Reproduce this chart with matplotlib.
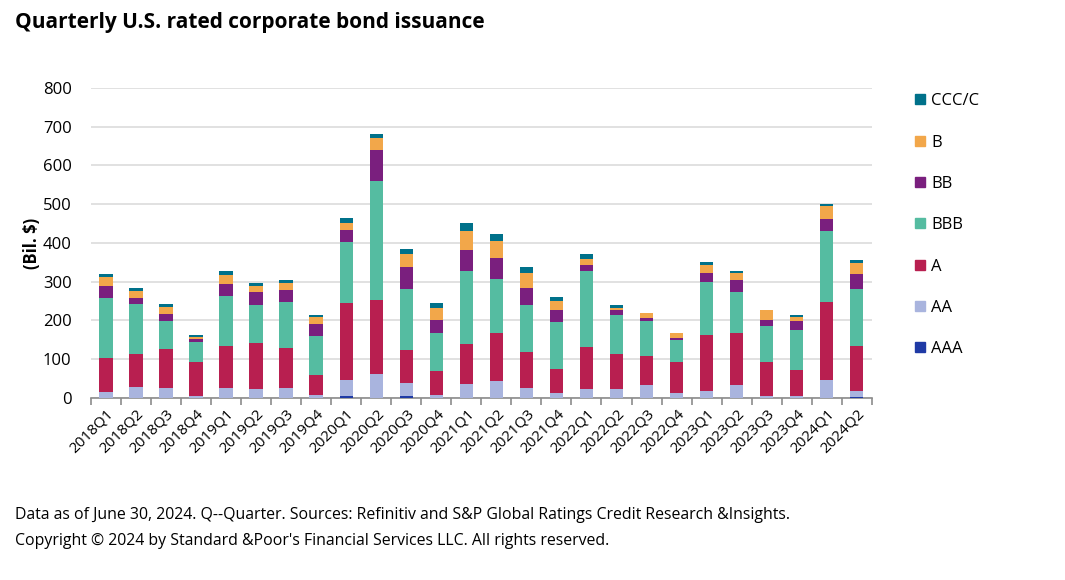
import matplotlib
matplotlib.use("Agg")
import matplotlib.pyplot as plt
import numpy as np
from matplotlib.lines import Line2D

quarters = ["2018Q1", "2018Q2", "2018Q3", "2018Q4", "2019Q1", "2019Q2", "2019Q3", "2019Q4",
            "2020Q1", "2020Q2", "2020Q3", "2020Q4", "2021Q1", "2021Q2", "2021Q3", "2021Q4",
            "2022Q1", "2022Q2", "2022Q3", "2022Q4", "2023Q1", "2023Q2", "2023Q3", "2023Q4",
            "2024Q1", "2024Q2"]

aaa = [0, 0, 0, 0, 0, 0, 0, 0, 5.2, 0, 5.2, 0, 0, 0, 0, 0,
       0, 0, 0, 0, 0, 0, 0, 0, 0, 2.6]
aa = [15.5, 28.5, 26, 5, 26, 23.3, 26, 7.8, 41.4, 62.2, 33.7, 7.8, 36.3, 44, 26, 13,
      23.3, 23.3, 33.7, 13, 18.1, 33.7, 5.2, 5.2, 46.6, 15.5]
a = [88, 85.5, 101, 88, 108.7, 119, 103.6, 51.8, 199.6, 191.8, 85.5, 62.2, 103.7, 124.5, 93.2, 62.2,
     108.9, 90.7, 75.2, 80.3, 145.2, 134.8, 88.1, 67.4, 202.1, 116.6]
bbb = [155.5, 129.5, 72.5, 52, 129.6, 98.5, 119, 101, 155.6, 305.6, 155.6, 98.5, 189, 137.3, 121.8, 121.8,
       194.4, 101, 90.7, 57, 137.3, 106.2, 93.3, 103.6, 181.3, 145.3]
bb = [31, 15.5, 18, 8, 31, 33.6, 31, 31, 31, 80.4, 56.8, 33.5, 52, 54.2, 44, 31,
      15.4, 13, 7.8, 5.2, 20.8, 28.6, 15.4, 23.4, 31.2, 38.7]
b = [21, 18, 18.3, 5, 23.3, 15.5, 18, 18.3, 18, 31, 33.7, 31, 49, 44, 36.4, 23.4,
     15.7, 5.3, 12.9, 13, 20.6, 18.1, 26, 10.4, 33.8, 28.6]
ccc = [8, 8, 7.5, 5, 10.3, 8, 8, 5, 13, 10.4, 13, 13, 21, 18.5, 15.6, 10.4,
       12.9, 7.7, 0, 0, 8, 5.2, 0, 5, 5, 7.7]

series_names = ["AAA", "AA", "A", "BBB", "BB", "B", "CCC/C"]
series_vals = [aaa, aa, a, bbb, bb, b, ccc]
colors = ["#1f3aa5", "#a9b4de", "#b81f50", "#55bca1", "#7a1f7e", "#f2a74a", "#00718a"]

FONT = ["Open Sans", "DejaVu Sans"]
plt.rcParams["font.family"] = FONT

fig = plt.figure(figsize=(10.65, 5.8), dpi=100)
ax = fig.add_axes([0.0855, 0.3138, 0.733, 0.5345])

x = np.arange(len(quarters))
bottom = np.zeros(len(quarters))
for name, vals, col in zip(series_names, series_vals, colors):
    v = np.array(vals, dtype=float)
    ax.bar(x, v, width=0.45, bottom=bottom, color=col, label=name, zorder=3)
    bottom += v

ax.set_ylim(0, 800)
ax.set_xlim(-0.5, len(quarters) - 0.5)
ax.set_yticks(np.arange(0, 801, 100))
ax.yaxis.grid(True, color="#dcdcdc", linewidth=1.2, zorder=0)
ax.set_axisbelow(True)
for s in ["top", "right", "left"]:
    ax.spines[s].set_visible(False)
ax.spines["bottom"].set_color("#8c8c8c")
ax.spines["bottom"].set_linewidth(1.2)
ax.tick_params(axis="y", length=0, labelsize=12, pad=14)
ax.set_xticks(x)
ax.set_xticklabels(quarters, rotation=45, ha="right", rotation_mode="anchor", fontsize=11)
ax.tick_params(axis="x", which="major", length=0, pad=6)
ax.set_xticks(np.arange(-0.5, len(quarters), 1), minor=True)
ax.tick_params(axis="x", which="minor", length=5, color="#8c8c8c", width=1.2)
ax.set_ylabel("(Bil. $)", fontsize=12, fontweight="bold", labelpad=1)

handles = [Line2D([0], [0], marker="s", linestyle="none", markersize=7,
                  markerfacecolor=c, markeredgecolor=c) for c in colors]
leg = fig.legend(handles[::-1], series_names[::-1], loc="upper left",
                 bbox_to_anchor=(0.840, 0.865), frameon=False, fontsize=12,
                 labelspacing=1.52, handletextpad=0.1, handlelength=1.2)

fig.text(0.014, 0.962, "Quarterly U.S. rated corporate bond issuance", fontsize=15,
         fontweight="bold", ha="left", va="center")
fig.text(0.014, 0.112, "Data as of June 30, 2024. Q--Quarter. Sources: Refinitiv and S&P Global Ratings Credit Research &Insights.",
         fontsize=11.4, ha="left", va="center")
fig.text(0.014, 0.067, "Copyright \u00a9 2024 by Standard &Poor's Financial Services LLC. All rights reserved.",
         fontsize=11.4, ha="left", va="center")

fig.savefig("out.png", dpi=100)
